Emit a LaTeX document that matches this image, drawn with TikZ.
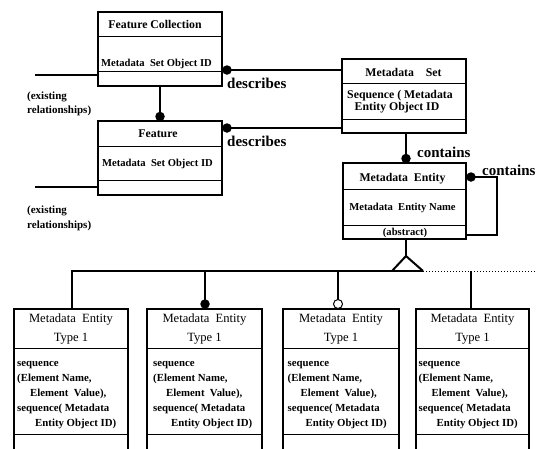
\documentclass[tikz,border=0pt]{standalone}
\usepackage{fontspec}
\setmainfont{Liberation Serif}
\begin{document}
\begin{tikzpicture}[x=1pt,y=-1pt,
  box/.style={draw, line width=1.2pt, anchor=north west, inner sep=0pt, outer sep=0pt},
  div/.style={line width=0.9pt},
  conn/.style={line width=2pt},
  dot/.style={circle, fill, inner sep=0pt, minimum size=9.5pt},
  odot/.style={circle, draw, fill=white, line width=1pt, inner sep=0pt, minimum size=9pt},
  txt/.style={inner sep=0pt, anchor=base},
  txtw/.style={inner sep=0pt, anchor=base west},
  hb/.style={font=\bfseries\fontsize{11.8}{14}\selectfont},
  mb/.style={font=\bfseries\fontsize{10.6}{13}\selectfont},
  lb/.style={font=\bfseries\fontsize{15}{17}\selectfont},
  eb/.style={font=\bfseries\fontsize{11}{13}\selectfont},
  rh/.style={font=\fontsize{12.6}{15}\selectfont},
  bb/.style={font=\bfseries\fontsize{10.8}{13}\selectfont}
]
\useasboundingbox (0,0) rectangle (537,448);
\clip (0,0) rectangle (537,448);

% ---------- upper boxes ----------
\node[box, minimum width=124pt, minimum height=74pt] (fc) at (98,12) {};
\draw[div] (fc.west |- 0,36) -- (fc.east |- 0,36);
\draw[div] (fc.west |- 0,71) -- (fc.east |- 0,71);
\node[txt, hb] (fct) at (155,28.5) {Feature Collection};
\node[txtw, mb] (fcm) at (101,66.5) {Metadata\enspace Set Object ID};

\node[box, minimum width=124pt, minimum height=74pt] (fe) at (98,121) {};
\draw[div] (fe.west |- 0,146) -- (fe.east |- 0,146);
\draw[div] (fe.west |- 0,180) -- (fe.east |- 0,180);
\node[txt, hb] (fet) at (158,137.5) {Feature};
\node[txtw, mb] (fem) at (102,166.5) {Metadata\enspace Set Object ID};

\node[box, minimum width=124pt, minimum height=74pt] (ms) at (342,59) {};
\draw[div] (ms.west |- 0,83) -- (ms.east |- 0,83);
\draw[div] (ms.west |- 0,119) -- (ms.east |- 0,119);
\node[txt, hb] (mst) at (403.5,76) {Metadata\enspace\enspace Set};
\node[txtw, hb] (msm1) at (347,98.5) {Sequence ( Metadata};
\node[txt, hb] (msm2) at (397,110) {Entity Object ID};

\node[box, minimum width=123pt, minimum height=76pt] (me) at (343,163) {};
\draw[div] (me.west |- 0,189) -- (me.east |- 0,189);
\draw[div] (me.west |- 0,225) -- (me.east |- 0,225);
\node[txt, hb] (met) at (402.5,181.5) {Metadata\enspace Entity};
\node[txt, mb] (mem) at (402.5,210.5) {Metadata\enspace Entity Name};
\node[txt, mb] (mea) at (405,235.5) {(abstract)};

% ---------- lower boxes ----------
\foreach \bn/\bx/\bw/\tx in {b1/14/114/17, b2/147/115/153, b3/283/116/287.5, b4/416/113/418.5}{
  \node[box, minimum width=\bw pt, minimum height=160pt] (\bn) at (\bx,309) {};
  \draw[div] (\bn.west |- 0,348) -- (\bn.east |- 0,348);
  \draw[div] (\bn.west |- 0,434) -- (\bn.east |- 0,434);
  \node[txt, rh] (\bn h1) at (\bn.north |- 0,322.5) {Metadata\enspace Entity};
  \node[txt, rh] (\bn h2) at (\bn.north |- 0,341) {Type 1};
  \node[txtw, bb] (\bn s1) at (\tx,366) {sequence};
  \node[txtw, bb] (\bn s2) at (\tx,381.5) {(Element Name,};
  \node[txtw, bb] (\bn s3) at (\tx+13,396.5) {Element\enspace Value),};
  \node[txtw, bb] (\bn s4) at (\tx,411.5) {sequence( Metadata};
  \node[txtw, bb] (\bn s5) at (\tx+18,426) {Entity Object ID)};
}

% ---------- labels ----------
\node[txtw, eb] (ex1a) at (27,99) {(existing};
\node[txtw, eb] (ex1b) at (27,113) {relationships)};
\node[txtw, eb] (ex2a) at (27,213) {(existing};
\node[txtw, eb] (ex2b) at (27,228) {relationships)};
\node[txtw, lb] (ds1) at (227,88) {describes};
\node[txtw, lb] (ds2) at (227,146) {describes};
\node[txtw, lb] (ct1) at (417,157.5) {contains};
\node[txtw, lb] (ct2) at (482,175) {contains};

% ---------- connectors ----------
\coordinate (ex1) at (35,75);
\coordinate (ex2) at (35,187);
\draw[conn] (ex1) -- (fc.west |- ex1);
\draw[conn] (ex2) -- (fe.west |- ex2);

\node[dot] (d1) at (227,70) {};
\draw[conn] (fc.east |- d1) -- (ms.west |- d1);
\node[dot] (d2) at (227,128) {};
\draw[conn] (fe.east |- d2) -- (ms.west |- d2);

\node[dot] (d3) at (160,116.5) {};
\draw[conn] (fc.south -| d3) -- (d3.center);

\node[dot] (d4) at (406,158.5) {};
\draw[conn] (ms.south -| d4) -- (d4.center);

\node[dot] (d5) at (471,177) {};
\coordinate (lp1) at (497,177);
\coordinate (lp2) at (497,235);
\draw[conn] (me.east |- d5) -- (lp1) -- (lp2) -- (me.east |- lp2);

\coordinate (apex) at (406,256);
\coordinate (trL) at (392,271);
\coordinate (trR) at (423,271);
\draw[conn] (me.south -| apex) -- (apex);
\draw[conn, line join=miter] (trL) -- (apex) -- (trR);

\coordinate (busL) at (72,271);
\coordinate (busE) at (537,271);
\draw[conn] (b1.north -| busL) -- (busL) -- (trR);
\draw[line width=1pt, dotted] (trR) -- (busE);

\coordinate (t2) at (205,271);
\coordinate (t3) at (338,271);
\coordinate (t4) at (471,271);
\draw[conn] (t2) -- (b2.north -| t2);
\draw[conn] (t3) -- (b3.north -| t3);
\draw[conn] (t4) -- (b4.north -| t4);
\node[dot] (d6) at (205,304) {};
\node[odot] (o7) at (338,304) {};
\end{tikzpicture}
\end{document}
